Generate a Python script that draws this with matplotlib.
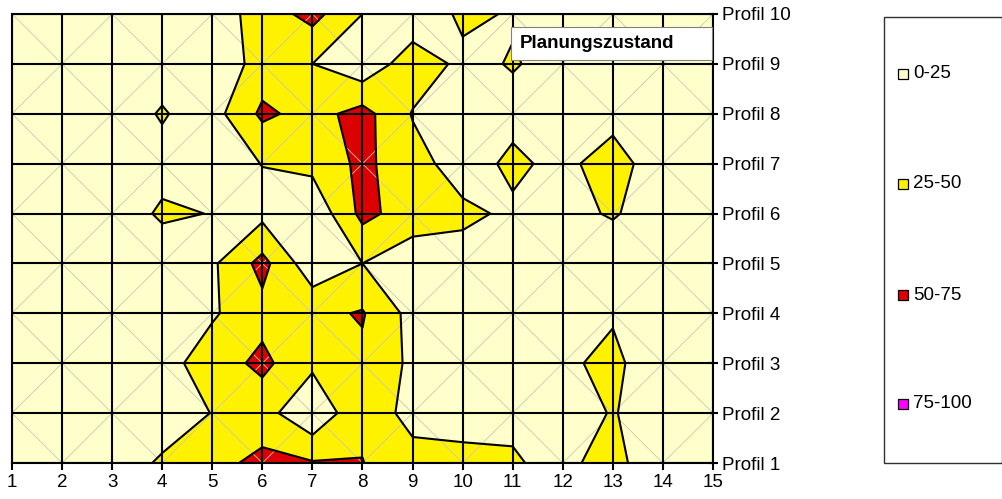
import numpy as np
import matplotlib
matplotlib.use('Agg')
import matplotlib.pyplot as plt
from matplotlib.collections import LineCollection
from matplotlib.patches import Rectangle

plt.rcParams['font.family'] = ['Liberation Sans', 'DejaVu Sans']

# x positions (columns) and profile names (rows)
x_vals = np.arange(1, 16)
profile_labels = ['Profil %d' % i for i in range(1, 11)]

# contour bands
levels = [0, 25, 50, 75, 100]
band_labels = ['0-25', '25-50', '50-75', '75-100']
band_colors = ['#FFFFCC', '#FFF200', '#DC0000', '#FF00FF']

# values, one row per profile (Profil 1 .. Profil 10), x = 1..15
profil_1 = [10, 12, 15, 27.5, 42, 57, 52, 50.5, 37, 35, 27, 19, 35, 2, 5]
profil_2 = [10, 12, 14, 15, 25.5, 35, 4, 46, 14, 11, 21, 10, 27, 7, 8]
profil_3 = [10, 12, 14, 15, 38, 56, 30, 45, 20, 15, 14, 20, 32, 4, 8]
profil_4 = [10, 12, 14, 16, 22, 42, 44, 52, 16.5, 12, 10, 12, 22, 10, 8]
profil_5 = [8, 10, 12, 15, 21, 58, 8, 25, 10, 15, 12, 10, 14, 10, 8]
profil_6 = [10, 12, 15, 27.5, 24.5, 18, 5, 57, 38, 30, 21, 20, 26.6, 16, 10]
profil_7 = [10, 12, 14, 19, 15, 25.5, 32, 56, 34, 14, 30, 18, 38, 7, 10]
profil_8 = [10, 12, 15, 26.6, 15, 55, 41, 59, 23.5, 15, 18, 14, 15, 12, 10]
profil_9 = [10, 12, 14, 17, 5, 36, 25, 6, 40, 19, 26.5, 18, 14, 12, 10]
profil_10 = [8, 10, 12, 12, 10, 37, 58.3, 25, 6, 30, 23, 15, 12, 10, 8]

Z = np.array([profil_1, profil_2, profil_3, profil_4, profil_5,
              profil_6, profil_7, profil_8, profil_9, profil_10])
y_vals = np.arange(1, Z.shape[0] + 1)
X, Y = np.meshgrid(x_vals, y_vals)

# faint wireframe diagonals of the surface
diagonals = []
for j in range(len(y_vals) - 1):
    for i in range(len(x_vals) - 1):
        x0, x1, y0, y1 = x_vals[i], x_vals[i + 1], y_vals[j], y_vals[j + 1]
        if (x0 + y0) % 2:
            diagonals.append([(x0, y0), (x1, y1)])
        else:
            diagonals.append([(x0, y1), (x1, y0)])

fig = plt.figure(figsize=(10.03, 4.99), dpi=100)
ax = fig.add_axes([12 / 1003, 36 / 499, 701 / 1003, 449 / 499])

ax.contourf(X, Y, Z, levels=levels, colors=band_colors)
ax.add_collection(LineCollection(diagonals, colors='#C9C9B0', linewidths=0.6, zorder=1.5))
ax.contour(X, Y, Z, levels=levels[1:-1], colors='black', linewidths=1.5, zorder=2)

ax.set_xlim(x_vals[0], x_vals[-1])
ax.set_ylim(y_vals[0], y_vals[-1])
ax.set_xticks(x_vals)
ax.set_yticks(y_vals)
ax.set_yticklabels(profile_labels)
ax.grid(True, color='black', linewidth=1.5, zorder=3)
ax.set_axisbelow(False)
for s in ax.spines.values():
    s.set_linewidth(1.5)
    s.set_zorder(4)
ax.yaxis.tick_right()
ax.tick_params(axis='x', direction='out', length=5, width=1.5, labelsize=13.5, pad=3)
ax.tick_params(axis='y', direction='inout', length=7, width=1.5, labelsize=13.5, pad=3)

# title box inside the plot
fig.patches.append(Rectangle((511 / 1003, 1 - 60 / 499), 201 / 1003, 33 / 499,
                             transform=fig.transFigure, facecolor='white',
                             edgecolor='#808080', linewidth=0.8, zorder=5))
fig.text(520 / 1003, 1 - 44 / 499, 'Planungszustand', fontsize=13.5, fontweight='bold',
         va='center', ha='left', zorder=6)

# legend box
fig.patches.append(Rectangle((884 / 1003, 1 - 463 / 499), 118 / 1003, 446 / 499,
                             transform=fig.transFigure, facecolor='white',
                             edgecolor='#303030', linewidth=1.0, zorder=5))
legend_y = [74, 184, 295, 404]
for lab, col, yp in zip(band_labels, band_colors, legend_y):
    fig.patches.append(Rectangle((898 / 1003, 1 - (yp + 5) / 499), 10 / 1003, 10 / 499,
                                 transform=fig.transFigure, facecolor=col,
                                 edgecolor='black', linewidth=0.9, zorder=6))
    fig.text(913 / 1003, 1 - yp / 499, lab, fontsize=13.5, va='center', ha='left', zorder=6)

fig.savefig('out.png', dpi=100)
